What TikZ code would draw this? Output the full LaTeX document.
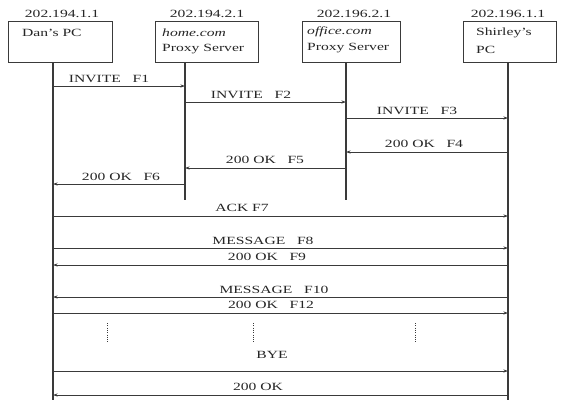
\documentclass[tikz,border=0pt]{standalone}
\usepackage{fontspec}
\setmainfont{Liberation Serif}[FakeStretch=1.42]
\usetikzlibrary{arrows.meta}
\definecolor{linec}{HTML}{3A3A3A}
\begin{document}
\begin{tikzpicture}[x=1pt,y=-1pt,
  box/.style={draw=linec, line width=0.9pt, rectangle, inner sep=0pt, anchor=north west},
  lbl/.style={inner sep=0pt, text=black!85, font=\fontsize{11}{13}\selectfont},
  msg/.style={draw=linec, line width=0.8pt, -{Stealth[length=4.5pt,width=3pt]}},
  life/.style={draw=linec, line width=1.2pt},
  dots/.style={draw=linec, line width=1pt, dash pattern=on 1pt off 1.3pt}]
\useasboundingbox[fill=white] (0,0) rectangle (563,400);

% boxes
\node[box, minimum width=104pt, minimum height=41pt] (dan) at (8,21) {};
\node[box, minimum width=103pt, minimum height=41pt] (home) at (155,21) {};
\node[box, minimum width=98pt, minimum height=41pt] (office) at (302,21) {};
\node[box, minimum width=93pt, minimum height=41pt] (shirley) at (463,21) {};

% box texts
\node[lbl, anchor=west] (dant) at (22,33) {Dan's PC};
\node[lbl, anchor=west] (homet1) at (162,33) {\itshape home.com};
\node[lbl, anchor=west] (homet2) at (162,49) {Proxy Server};
\node[lbl, anchor=west] (offt1) at (307,32) {\itshape office.com};
\node[lbl, anchor=west] (offt2) at (307,48) {Proxy Server};
\node[lbl, anchor=west] (shirt1) at (476,33) {Shirley's};
\node[lbl, anchor=west] (shirt2) at (476,50) {PC};

% IP labels
\node[lbl] (ipdan) at (62,14) {202.194.1.1};
\node[lbl] (iphome) at (207,14) {202.194.2.1};
\node[lbl] (ipoff) at (354,14) {202.196.2.1};
\node[lbl] (ipshir) at (508,14) {202.196.1.1};

% lifelines
\coordinate (danT) at (53,62);
\coordinate (homeT) at (185,62);
\coordinate (offT) at (346,62);
\coordinate (shirT) at (508,62);
\coordinate (danB) at (53,400);
\coordinate (homeB) at (185,200);
\coordinate (offB) at (346,200);
\coordinate (shirB) at (508,400);
\draw[life] (danT) -- (danB);
\draw[life] (homeT) -- (homeB);
\draw[life] (offT) -- (offB);
\draw[life] (shirT) -- (shirB);

% messages
\draw[msg] (danT |- 0,86) -- (homeT |- 0,86);
\node[lbl] (l1) at (109,79) {INVITE~~~F1};
\draw[msg] (homeT |- 0,102) -- (offT |- 0,102);
\node[lbl] (l2) at (251,95) {INVITE~~~F2};
\draw[msg] (offT |- 0,118) -- (shirT |- 0,118);
\node[lbl] (l3) at (417,111) {INVITE~~~F3};
\draw[msg] (shirT |- 0,152) -- (offT |- 0,152);
\node[lbl] (l4) at (424,144) {200 OK~~~F4};
\draw[msg] (offT |- 0,168) -- (homeT |- 0,168);
\node[lbl] (l5) at (265,160) {200 OK~~~F5};
\draw[msg] (homeT |- 0,184) -- (danT |- 0,184);
\node[lbl] (l6) at (121,177) {200 OK~~~F6};
\draw[msg] (danT |- 0,216) -- (shirT |- 0,216);
\node[lbl] (l7) at (242,208) {ACK F7};
\draw[msg] (danT |- 0,248) -- (shirT |- 0,248);
\node[lbl] (l8) at (263,241) {MESSAGE~~~F8};
\draw[msg] (shirT |- 0,265) -- (danT |- 0,265);
\node[lbl] (l9) at (267,257) {200 OK~~~F9};
\draw[msg] (shirT |- 0,297) -- (danT |- 0,297);
\node[lbl] (l10) at (274,290) {MESSAGE~~~F10};
\draw[msg] (danT |- 0,313) -- (shirT |- 0,313);
\node[lbl] (l12) at (271,305) {200 OK~~~F12};
\draw[msg] (danT |- 0,371) -- (shirT |- 0,371);
\node[lbl] (lbye) at (272,355) {BYE};
\draw[msg] (shirT |- 0,395) -- (danT |- 0,395);
\node[lbl] (lok) at (258,387) {200 OK};

% continuation dots
\draw[dots] (107,323) -- (107,342);
\draw[dots] (253,323) -- (253,342);
\draw[dots] (415,323) -- (415,342);
\end{tikzpicture}
\end{document}
